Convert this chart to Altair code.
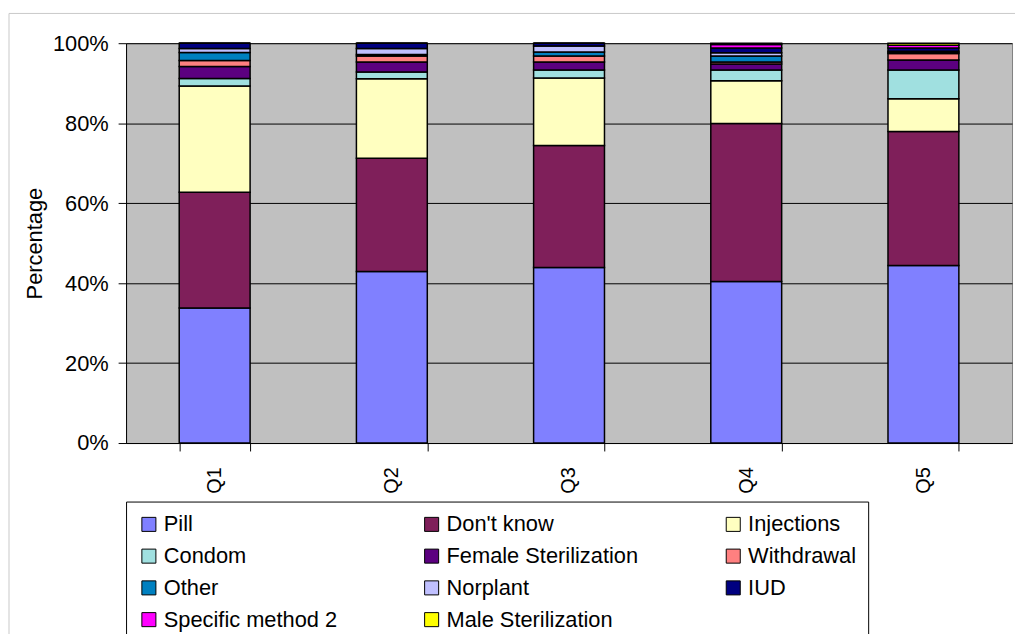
import altair as alt
import pandas as pd

quintiles = ["Q1", "Q2", "Q3", "Q4", "Q5"]
methods = ["Pill", "Don't know", "Injections", "Condom", "Female Sterilization",
           "Withdrawal", "Other", "Norplant", "IUD", "Specific method 2",
           "Male Sterilization"]
colors = ["#8080FF", "#7F1F5A", "#FFFFC0", "#A0E0E0", "#5C0080",
          "#FF8080", "#0080C0", "#C0C0FF", "#000080", "#FF00FF", "#FFFF00"]

pill        = [33.8, 42.9, 43.9, 40.4, 44.4]
dont_know   = [28.9, 28.3, 30.5, 39.5, 33.5]
injections  = [26.6, 19.9, 16.9, 10.7, 8.2]
condom      = [1.9, 1.7, 2.0, 2.7, 7.2]
female_ster = [3.0, 2.5, 2.0, 1.5, 2.5]
withdrawal  = [1.5, 1.5, 1.5, 0.5, 1.6]
other       = [2.0, 0.4, 1.0, 1.5, 0.3]
norplant    = [1.0, 1.5, 1.5, 0.8, 0.3]
iud         = [1.3, 1.3, 0.7, 1.2, 0.8]
specific2   = [0.0, 0.0, 0.0, 0.9, 0.7]
male_ster   = [0.0, 0.0, 0.0, 0.3, 0.5]

series = [pill, dont_know, injections, condom, female_ster, withdrawal,
          other, norplant, iud, specific2, male_ster]

rows = []
for mi, (m, vals) in enumerate(zip(methods, series)):
    for q, v in zip(quintiles, vals):
        rows.append({"quintile": q, "method": m, "value": v / 100.0, "order": mi})
df = pd.DataFrame(rows)

W, H = 893, 403
FONT = "Liberation Sans"

bars = alt.Chart(df).mark_bar(stroke="black", strokeWidth=1.5).encode(
    x=alt.X("quintile:N", sort=quintiles, title=None,
            scale=alt.Scale(paddingInner=0.6, paddingOuter=0.3),
            axis=alt.Axis(labelAngle=270, labelFontSize=20, labelFont=FONT,
                          labelColor="black", tickBand="extent", tickSize=8,
                          tickColor="black", domainColor="black",
                          labelPadding=16, labelBaseline="middle", labelAlign="right")),
    y=alt.Y("sum(value):Q", stack="zero", title="Percentage",
            scale=alt.Scale(domain=[0, 1], nice=False),
            axis=alt.Axis(format="%", values=[0, 0.2, 0.4, 0.6, 0.8, 1.0],
                          labelFontSize=22, labelFont=FONT, labelColor="black",
                          tickColor="black", tickSize=8, domainColor="black",
                          labelPadding=10, grid=True, gridColor="black",
                          gridOpacity=1, gridWidth=1,
                          titleFontSize=22, titleFont=FONT, titleFontWeight="normal",
                          titleColor="black", titlePadding=6)),
    color=alt.Color("method:N", sort=methods,
                    scale=alt.Scale(domain=methods, range=colors),
                    legend=alt.Legend(title=None, orient="none", legendX=0, legendY=462,
                                      columns=3, direction="horizontal",
                                      symbolType="square", symbolSize=200,
                                      symbolStrokeColor="black", symbolStrokeWidth=1,
                                      labelFontSize=22, labelFont=FONT, labelColor="black",
                                      rowPadding=10, columnPadding=84, gridAlign="each",
                                      padding=12, strokeColor="black", fillColor="white",
                                      labelOffset=4, labelLimit=400)),
    order=alt.Order("order:Q", sort="ascending"),
)

frame = alt.Chart(pd.DataFrame({"f": [0]})).mark_rect(
    fill=None, stroke="#C8C8C8", strokeWidth=1
).encode(
    x=alt.value(-118), x2=alt.value(W + 10),
    y=alt.value(-30), y2=alt.value(H + 200),
)

chart = alt.layer(frame, bars).properties(width=W, height=H).configure_view(
    fill="#C0C0C0", stroke="#808080", strokeWidth=1
).properties(
    autosize=alt.AutoSizeParams(type="none"),
    padding={"left": 119, "top": 33, "right": 3, "bottom": 190},
)

chart.save("out.html", embed_options={"renderer": "svg", "actions": False})
